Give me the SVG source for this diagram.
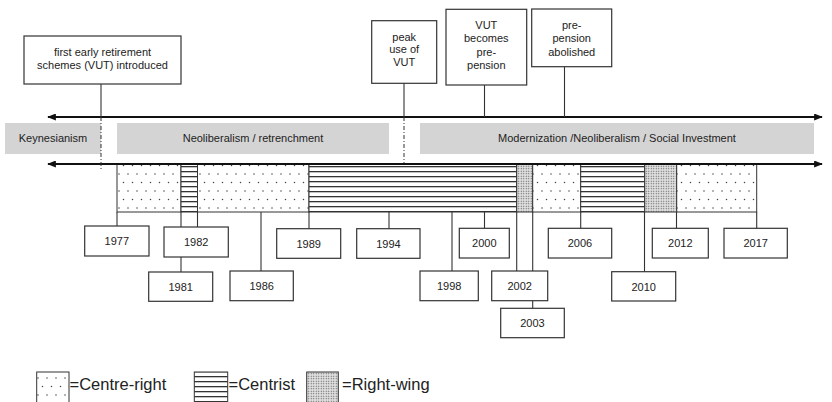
<svg xmlns="http://www.w3.org/2000/svg" width="832" height="402" viewBox="0 0 832 402">
<defs>
<pattern id="pDot" width="9" height="17" patternUnits="userSpaceOnUse">
<rect width="9" height="17" fill="#fff"/>
<circle cx="2" cy="4" r="0.75" fill="#444"/>
<circle cx="6.5" cy="12.5" r="0.75" fill="#444"/>
</pattern>
<pattern id="pLine" width="10" height="5" patternUnits="userSpaceOnUse" y="1">
<rect width="10" height="5" fill="#fff"/>
<rect y="0" width="10" height="1.3" fill="#333"/>
</pattern>
<pattern id="pDense" width="2.5" height="2.5" patternUnits="userSpaceOnUse">
<rect width="2.5" height="2.5" fill="#e0e0e0"/>
<circle cx="1.25" cy="1.25" r="0.65" fill="#555"/>
</pattern>
<marker id="ah" viewBox="0 0 10 8" refX="9" refY="4" markerWidth="10" markerHeight="7" markerUnits="userSpaceOnUse" orient="auto-start-reverse">
<path d="M0,0 L10,4 L0,8 z" fill="#111"/>
</marker>
<style>
.box{fill:#fff;stroke:#333;stroke-width:1.2}
.band{fill:#d4d4d4}
.t{font-family:"Liberation Sans",Arial,sans-serif;font-size:11px;fill:#222;text-anchor:middle}
.lg{font-family:"Liberation Sans",Arial,sans-serif;font-size:16.5px;fill:#222}
.c{stroke:#333;stroke-width:1.1;fill:none}
.d{stroke:#333;stroke-width:1;fill:none;stroke-dasharray:4 2 1 2}
.ax{stroke:#111;stroke-width:2;fill:none}
.seg{stroke:#333;stroke-width:1}
</style>
</defs>

<g id="bands">
<rect class="band" x="5" y="123" width="96" height="31"/>
<text class="t" x="53" y="142">Keynesianism</text>
<rect class="band" x="117" y="123" width="272" height="31"/>
<text class="t" x="253" y="142">Neoliberalism / retrenchment</text>
<rect class="band" x="420" y="123" width="394" height="31"/>
<text class="t" x="617" y="142">Modernization /Neoliberalism / Social Investment</text>
</g>

<g id="bars">
<rect class="seg" x="117" y="164" width="64" height="48" fill="url(#pDot)"/>
<rect class="seg" x="181" y="164" width="16.5" height="48" fill="url(#pLine)"/>
<rect class="seg" x="197.5" y="164" width="111.5" height="48" fill="url(#pDot)"/>
<rect class="seg" x="309" y="164" width="207.7" height="48" fill="url(#pLine)"/>
<rect class="seg" x="516.7" y="164" width="16" height="48" fill="url(#pDense)"/>
<rect class="seg" x="532.7" y="164" width="48" height="48" fill="url(#pDot)"/>
<rect class="seg" x="580.7" y="164" width="64" height="48" fill="url(#pLine)"/>
<rect class="seg" x="644.7" y="164" width="32" height="48" fill="url(#pDense)"/>
<rect class="seg" x="676.7" y="164" width="80" height="48" fill="url(#pDot)"/>
</g>

<g id="connectors">
<line class="ax" x1="48" y1="117" x2="822" y2="117" marker-start="url(#ah)" marker-end="url(#ah)"/>
<line class="ax" x1="48" y1="164" x2="822" y2="164" marker-start="url(#ah)" marker-end="url(#ah)"/>
<line class="c" x1="101" y1="84" x2="101" y2="117"/>
<line class="c" x1="404" y1="83" x2="404" y2="117"/>
<line class="c" x1="484.5" y1="85" x2="484.5" y2="117"/>
<line class="c" x1="564.5" y1="67" x2="564.5" y2="117"/>
<line class="d" x1="101" y1="117" x2="101" y2="169"/>
<line class="d" x1="404" y1="117" x2="404" y2="163"/>
<line class="c" x1="117" y1="212" x2="117" y2="226"/>
<line class="c" x1="181" y1="212" x2="181" y2="227"/>
<line class="c" x1="181" y1="257" x2="181" y2="272"/>
<line class="c" x1="197.5" y1="212" x2="197.5" y2="227"/>
<line class="c" x1="261" y1="212" x2="261" y2="271"/>
<line class="c" x1="309" y1="212" x2="309" y2="229"/>
<line class="c" x1="389" y1="212" x2="389" y2="229"/>
<line class="c" x1="452" y1="212" x2="452" y2="271"/>
<line class="c" x1="484.5" y1="212" x2="484.5" y2="228"/>
<line class="c" x1="516.7" y1="212" x2="516.7" y2="271"/>
<line class="c" x1="532.7" y1="212" x2="532.7" y2="271"/>
<line class="c" x1="532.7" y1="301" x2="532.7" y2="308"/>
<line class="c" x1="580.7" y1="212" x2="580.7" y2="228"/>
<line class="c" x1="644.5" y1="212" x2="644.5" y2="272"/>
<line class="c" x1="676.5" y1="212" x2="676.5" y2="228"/>
<line class="c" x1="756.7" y1="212" x2="756.7" y2="228"/>
</g>

<g id="n-first">
<rect class="box" x="24" y="36" width="157" height="48"/>
<text class="t" x="102.5" y="55.5">first early retirement</text>
<text class="t" x="102.5" y="68.5">schemes (VUT) introduced</text>
</g>
<g id="n-peak">
<rect class="box" x="371.7" y="20.7" width="65" height="62.6"/>
<text class="t" x="404.2" y="40.5">peak</text>
<text class="t" x="404.2" y="53">use of</text>
<text class="t" x="404.2" y="66">VUT</text>
</g>
<g id="n-becomes">
<rect class="box" x="446" y="9.3" width="80.7" height="75.7"/>
<text class="t" x="486.3" y="29.3">VUT</text>
<text class="t" x="486.3" y="42.3">becomes</text>
<text class="t" x="486.3" y="55.5">pre-</text>
<text class="t" x="486.3" y="68.5">pension</text>
</g>
<g id="n-abolished">
<rect class="box" x="531.7" y="9" width="80" height="57.7"/>
<text class="t" x="571.7" y="29.3">pre-</text>
<text class="t" x="571.7" y="42.3">pension</text>
<text class="t" x="571.7" y="55.5">abolished</text>
</g>

<g id="y1977"><rect class="box" x="84.7" y="226" width="64.3" height="30"/><text class="t" x="116.8" y="245">1977</text></g>
<g id="y1982"><rect class="box" x="164" y="227" width="64.3" height="30"/><text class="t" x="196.2" y="246">1982</text></g>
<g id="y1981"><rect class="box" x="148.7" y="272" width="64" height="29.3"/><text class="t" x="180.7" y="290.5">1981</text></g>
<g id="y1986"><rect class="box" x="230" y="271" width="63.3" height="29.7"/><text class="t" x="261.7" y="290">1986</text></g>
<g id="y1989"><rect class="box" x="276.7" y="228.7" width="64" height="29.6"/><text class="t" x="308.7" y="247.5">1989</text></g>
<g id="y1994"><rect class="box" x="356.7" y="228.7" width="63.3" height="29.6"/><text class="t" x="388.4" y="247.5">1994</text></g>
<g id="y1998"><rect class="box" x="420" y="271" width="58.3" height="29.7"/><text class="t" x="449.2" y="290">1998</text></g>
<g id="y2000"><rect class="box" x="459.3" y="228.3" width="50" height="29.7"/><text class="t" x="484.3" y="247.3">2000</text></g>
<g id="y2002"><rect class="box" x="491.7" y="271" width="56" height="29.7"/><text class="t" x="519.7" y="290">2002</text></g>
<g id="y2003"><rect class="box" x="500.7" y="308.3" width="63.6" height="29.4"/><text class="t" x="532.5" y="327">2003</text></g>
<g id="y2006"><rect class="box" x="548.3" y="228.3" width="63.4" height="29.7"/><text class="t" x="580" y="247.3">2006</text></g>
<g id="y2010"><rect class="box" x="611.7" y="271.7" width="64" height="29.3"/><text class="t" x="643.7" y="290.5">2010</text></g>
<g id="y2012"><rect class="box" x="652.3" y="228.3" width="56" height="29.7"/><text class="t" x="680.3" y="247.3">2012</text></g>
<g id="y2017"><rect class="box" x="724" y="228.3" width="63.3" height="29.7"/><text class="t" x="755.7" y="247.3">2017</text></g>

<g id="legend">
<rect class="seg" x="36.7" y="372" width="32.3" height="40" fill="url(#pDot)"/>
<text class="lg" x="69.5" y="390">=Centre-right</text>
<rect class="seg" x="194.3" y="372" width="33.4" height="40" fill="url(#pLine)"/>
<text class="lg" x="228.5" y="390">=Centrist</text>
<rect class="seg" x="306.7" y="372" width="31.6" height="40" fill="url(#pDense)"/>
<text class="lg" x="342" y="390">=Right-wing</text>
</g>
</svg>
